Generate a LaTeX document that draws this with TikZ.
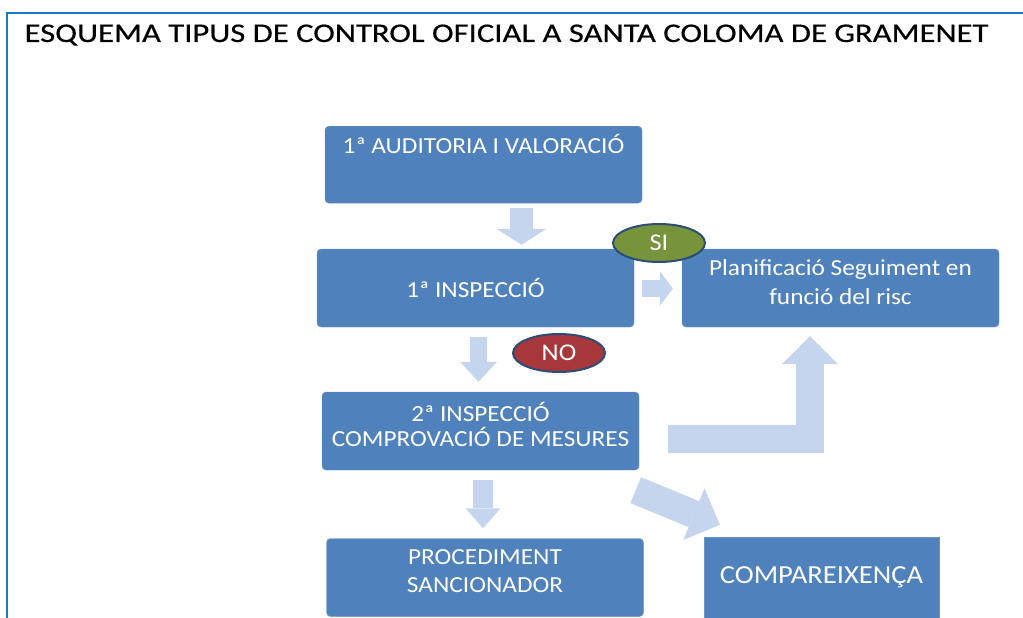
\documentclass[tikz,border=0pt]{standalone}
\usepackage{fontspec}
\setmainfont[FakeStretch=1.1]{Carlito}
\newfontfamily\titlefont[FakeStretch=1.21, FakeBold=0.4]{Carlito}
\usetikzlibrary{arrows.meta,shapes.geometric,calc}

\definecolor{frame blue}{RGB}{31,119,200}
\definecolor{box blue}{RGB}{79,129,189}
\definecolor{arrow fill}{RGB}{197,213,238}
\definecolor{yes green}{RGB}{119,147,60}
\definecolor{no red}{RGB}{166,55,58}
\definecolor{oval edge}{RGB}{44,77,117}
\tikzset{
  box/.style={fill=box blue, draw=box blue!85!white, rounded corners=4pt, text=white,
    align=center, minimum width=317pt, minimum height=78pt, inner sep=0pt,
    font=\fontsize{23}{25}\selectfont},
  toptext/.style={anchor=north, text height=17pt, text depth=40pt, inner ysep=10pt, minimum height=77pt},
  oval/.style={ellipse, draw=oval edge, line width=2pt, text=white, inner sep=0pt,
    minimum width=92pt, minimum height=38pt, font=\fontsize{24}{26}\selectfont},
  flow/.style args={#1/#2/#3}{draw=arrow fill, line width=#1pt,
    -{Triangle[width=#2pt, length=#3pt, line width=0pt]}}
  }
\tikzstyle{frame} = [draw=frame blue, line width=2.5pt]

\begin{document}
\begin{tikzpicture}[x=1pt, y=-1pt]
  \useasboundingbox (0,0) rectangle (1023,618);
  \path[frame] (7,618) -- (7,13) -- (1023,13);
  \node[anchor=base west, font=\titlefont\fontsize{27}{30}\selectfont] (title) at (21,42)
    {ESQUEMA TIPUS DE CONTROL OFICIAL A SANTA COLOMA DE GRAMENET};

  \node[box, toptext] (audit) at (483.5,126) {1ª AUDITORIA I VALORACIÓ};
  \foreach \pos/\name/\txt in {{(475.5,288)/insp1/{1ª INSPECCIÓ}},
      {(840.5,288)/plan/{Planificació Seguiment en\\[4pt]funció del risc\\[-14pt]}},
      {(480.5,431)/insp2/{2ª INSPECCIÓ\\COMPROVACIÓ DE MESURES\\[-12pt]}},
      {(485,577.5)/sanc/{PROCEDIMENT\\[3pt]SANCIONADOR\\[-12pt]}}} {
    \node[box] (\name) at \pos {\txt};
  }
  \node[box, rounded corners=0pt, minimum width=235pt, minimum height=81pt,
    font=\fontsize{26}{28}\selectfont] (comp) at (821.5,577.5) {COMPAREIXENÇA};

  \path[flow=23/50/16] ($(audit.south)+(38,5)$) -- ($(insp1.north)+(46,-4)$);
  \path[flow=17/35/13] ($(insp1.east)+(8,0.5)$) -- ($(plan.west)+(-9,0.5)$);
  \path[flow=17/37/20] ($(insp1.south)+(3,10)$) -- ($(insp2.north)+(-2,-10)$);
  \path[flow=20/35/20] ($(insp2.south)+(2.5,10)$) -- ($(sanc.north)+(-2,-10)$);
  \path[flow=28/56/28] ($(insp2.east)+(29,8)$) -| ($(plan.south)+(-30.5,9)$);
  \path[flow=28/56/28] ($(insp2.south east)+(-3.5,20)$) -- ($(comp.north west)+(16,-12)$);

  \node[oval, fill=yes green] (si) at (659,243) {SI};
  \node[oval, fill=no red] (no) at (559,353) {NO};
\end{tikzpicture}
\end{document}
